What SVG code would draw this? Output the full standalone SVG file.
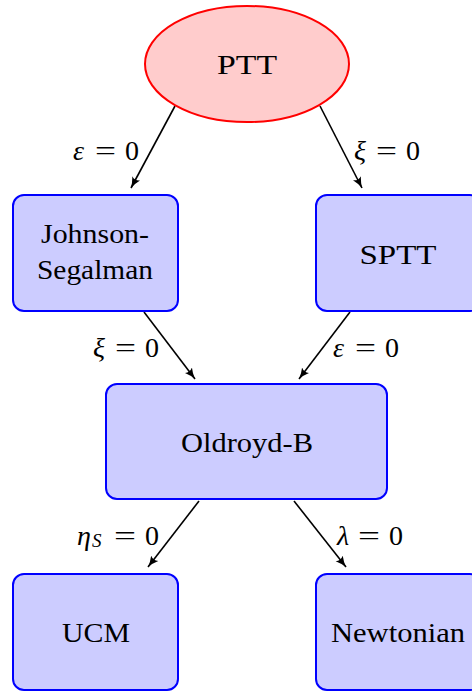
<svg xmlns="http://www.w3.org/2000/svg" width="472" height="691" viewBox="0 0 472 691">
<defs>
<marker id="ah" viewBox="0 0 12 10" refX="11" refY="5" markerWidth="12" markerHeight="10" markerUnits="userSpaceOnUse" orient="auto">
<path d="M0,0.5 Q5,3.5 11,5 Q5,6.5 0,9.5 Q3,5 0,0.5 Z" fill="#000"/>
</marker>
<style>
.box{fill:#ccccff;stroke:#0000ff;stroke-width:2}
.ell{fill:#ffcccc;stroke:#ff0000;stroke-width:2}
.t{font-family:"Liberation Serif","Times New Roman",serif;font-size:28px;fill:#000;text-anchor:middle}
.l{font-family:"Liberation Serif","Times New Roman",serif;font-size:28px;fill:#000}
.i{font-style:italic}
.c{stroke:#000;stroke-width:1.6;fill:none;marker-end:url(#ah)}
</style>
</defs>
<g id="connectors">
<line class="c" x1="175" y1="106" x2="131" y2="188"/>
<line class="c" x1="320" y1="106" x2="362" y2="188"/>
<line class="c" x1="144" y1="312" x2="195" y2="379"/>
<line class="c" x1="350" y1="312" x2="299" y2="379"/>
<line class="c" x1="199" y1="501" x2="148" y2="567"/>
<line class="c" x1="294" y1="501" x2="346" y2="567"/>
<text class="l" y="160"><tspan class="i" x="73">ε</tspan><tspan x="95" textLength="21" lengthAdjust="spacingAndGlyphs">=</tspan><tspan x="125">0</tspan></text>
<text class="l" y="160"><tspan class="i" x="354">ξ</tspan><tspan x="376" textLength="21" lengthAdjust="spacingAndGlyphs">=</tspan><tspan x="406">0</tspan></text>
<text class="l" y="357"><tspan class="i" x="93">ξ</tspan><tspan x="115" textLength="21" lengthAdjust="spacingAndGlyphs">=</tspan><tspan x="145">0</tspan></text>
<text class="l" y="357"><tspan class="i" x="333">ε</tspan><tspan x="355" textLength="21" lengthAdjust="spacingAndGlyphs">=</tspan><tspan x="385">0</tspan></text>
<text class="l" y="545"><tspan class="i" x="77">η</tspan><tspan class="i" x="92" font-size="19" dy="2">S</tspan><tspan x="114" dy="-2" textLength="22" lengthAdjust="spacingAndGlyphs">=</tspan><tspan x="145">0</tspan></text>
<text class="l" y="545"><tspan class="i" x="337">λ</tspan><tspan x="358" textLength="22" lengthAdjust="spacingAndGlyphs">=</tspan><tspan x="389">0</tspan></text>
</g>
<g id="PTT">
<ellipse class="ell" cx="247" cy="64" rx="102" ry="58"/>
<text class="t" x="247" y="74" textLength="60" lengthAdjust="spacingAndGlyphs">PTT</text>
</g>
<g id="JohnsonSegalman">
<rect class="box" x="13" y="195" width="165" height="116" rx="11"/>
<text class="t" x="95" y="243" textLength="108" lengthAdjust="spacingAndGlyphs">Johnson-</text>
<text class="t" x="95" y="279" textLength="116" lengthAdjust="spacingAndGlyphs">Segalman</text>
</g>
<g id="SPTT">
<rect class="box" x="316" y="195" width="165" height="116" rx="11"/>
<text class="t" x="398" y="264" textLength="77" lengthAdjust="spacingAndGlyphs">SPTT</text>
</g>
<g id="OldroydB">
<rect class="box" x="106" y="384" width="281" height="115" rx="11"/>
<text class="t" x="247" y="452" textLength="132" lengthAdjust="spacingAndGlyphs">Oldroyd-B</text>
</g>
<g id="UCM">
<rect class="box" x="13" y="574" width="165" height="116" rx="11"/>
<text class="t" x="96" y="642" textLength="68" lengthAdjust="spacingAndGlyphs">UCM</text>
</g>
<g id="Newtonian">
<rect class="box" x="316" y="574" width="165" height="116" rx="11"/>
<text class="t" x="398" y="642" textLength="134" lengthAdjust="spacingAndGlyphs">Newtonian</text>
</g>
</svg>
